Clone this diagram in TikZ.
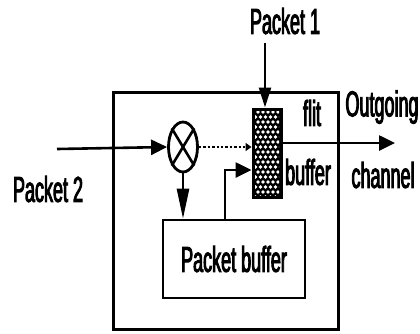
\documentclass[tikz,border=0pt]{standalone}
\usepackage{fontspec}
\newfontfamily\lblfont[FakeStretch=0.5,FakeBold=2.5]{Liberation Sans}
\usetikzlibrary{arrows.meta,shapes.geometric}

\begin{document}
\begin{tikzpicture}[
  x=1pt, y=-1pt,
  every node/.style={font=\lblfont\fontsize{36}{36}\selectfont, inner sep=0pt},
  boxnode/.style={draw, line width=2.6pt, minimum width=142pt, minimum height=78pt},
  arr/.style={-{Triangle[length=16pt,width=15pt]}, line width=2.6pt},
  downarr/.style={-{Triangle[length=30pt,width=12pt]}, line width=2.6pt},
  inarr/.style={-{Triangle[length=20pt,width=12pt]}, line width=2.6pt},
  smallarr/.style={-{Triangle[length=6pt,width=8pt]}, line width=2.4pt, dotted},
]
\useasboundingbox (0,0) rectangle (420,333);

% Outer box
\node[draw, line width=3pt, minimum width=225pt, minimum height=237pt] (outer) at (225.5,210.5) {};

% Multiplexer
\node[ellipse, draw, line width=2.8pt, minimum width=29pt, minimum height=50pt] (mult) at (183,147) {};
\draw[line width=2.6pt] (mult.north west) -- (mult.south east);
\draw[line width=2.6pt] (mult.north east) -- (mult.south west);

% Flit buffer
\node[fill=black, draw, line width=1pt, minimum width=30pt, minimum height=90pt] (flit) at (267,153) {};
\begin{scope}
  \clip (255,111) rectangle (279,195);
  \foreach \r [evaluate=\r as \off using {mod(\r,2)*2.5}] in {0,...,17}
    \foreach \c in {0,...,6}
      \fill[white] ({253+\c*5+\off},{112+\r*5}) circle (1.9);
\end{scope}

% Packet buffer
\node[boxnode] (pbuf) at (234,259) {Packet buffer};

% Labels
\node (pk1) at (285,21) {Packet 1};
\node (pk2) at (48,189) {Packet 2};
\node (flitlbl) at (312,113) {flit};
\node (buflbl) at (308,172) {buffer};
\node (outlbl) at (382,107) {Outgoing};
\node (chlbl) at (383,175) {channel};

% Free ends
\coordinate (in1) at (265,43);
\coordinate (in2) at (57,149);
\coordinate (out) at (395,143);
\coordinate (fb) at (225,170);

% Arrows
\draw[arr] (in2) -- (mult.west);
\draw[inarr] (in1) -- (in1 |- flit.north);
\draw[smallarr] (mult.east) -- (mult.east -| flit.west);
\draw[arr] (flit.east |- out) -- (out);
\draw[downarr] (mult.south) -- (mult.south |- pbuf.north);
\draw[arr] (fb |- pbuf.north) -- (fb) -- (fb -| flit.west);

\end{tikzpicture}
\end{document}
